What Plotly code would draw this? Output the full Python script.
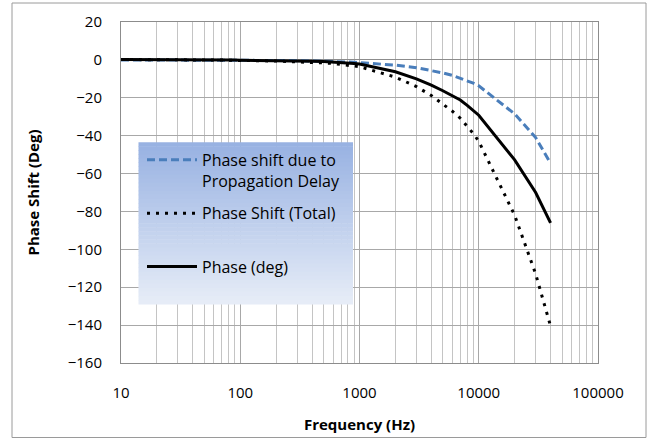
import plotly.graph_objects as go

# ---- data ----
freq_hz = [10, 20, 30, 40, 50, 60, 70, 80, 90, 100,
           200, 300, 400, 500, 600, 700, 800, 900, 1000,
           2000, 3000, 4000, 5000, 6000, 7000, 8000, 9000, 10000,
           20000, 30000, 40000]

delay_shift = [0.0, 0.0, 0.0, -0.1, -0.1, -0.1, -0.1, -0.1, -0.1, -0.1,
               -0.3, -0.4, -0.5, -0.7, -0.8, -1.0, -1.1, -1.2, -1.4,
               -2.8, -4.1, -5.5, -6.9, -8.2, -9.6, -11.0, -12.3, -13.7,
               -28.5, -41.0, -54.6]

total_shift = [0.2, 0.2, 0.2, 0.1, 0.0, 0.0, -0.1, -0.2, -0.2, -0.3,
               -0.6, -0.9, -1.2, -1.6, -1.9, -2.3, -2.7, -3.1, -3.6,
               -9.1, -14.1, -18.8, -23.2, -27.1, -30.8, -35.0, -38.9, -43.0,
               -82.0, -113.0, -140.5]

phase_deg = [0.2, 0.2, 0.2, 0.2, 0.1, 0.1, 0.0, -0.1, -0.1, -0.2,
             -0.3, -0.5, -0.7, -0.9, -1.1, -1.3, -1.6, -1.9, -2.2,
             -6.3, -10.0, -13.3, -16.3, -18.9, -21.2, -24.0, -26.6, -29.2,
             -52.8, -70.0, -86.0]

series_names = ["Phase shift due to<br>Propagation Delay", "Phase Shift (Total)", "Phase (deg)"]
x_tick_vals = [10, 100, 1000, 10000, 100000]
x_tick_text = ["10", "100", "1000", "10000", "100000"]
y_tick_vals = [20, 0, -20, -40, -60, -80, -100, -120, -140, -160]

FONT = "Open Sans"

fig = go.Figure()
fig.add_trace(go.Scatter(x=freq_hz, y=delay_shift, mode="lines", name=series_names[0],
                         line=dict(color="#4A7EBB", width=3, dash="8px,4px"), legend="legend"))
fig.add_trace(go.Scatter(x=freq_hz, y=total_shift, mode="lines", name=series_names[1],
                         line=dict(color="#000000", width=3, dash="3px,6px"), legend="legend2"))
fig.add_trace(go.Scatter(x=freq_hz, y=phase_deg, mode="lines", name=series_names[2],
                         line=dict(color="#000000", width=3), legend="legend3"))

# plot-area geometry (px) used for paper-coordinate styling
L, R, T, B = 121, 598, 22, 363
W, H = 650, 439
def px_x(px):
    return (px - L) / (R - L)
def px_y(py):
    return (B - py) / (B - T)

shapes = []
# gradient legend background
n = 40
top_c = (152, 178, 226)
bot_c = (230, 236, 247)
y_top, y_bot = 142.3, 304.0
for i in range(n):
    t = i / (n - 1)
    c = tuple(round(top_c[k] + (bot_c[k] - top_c[k]) * t) for k in range(3))
    ya = y_top + (y_bot - y_top) * i / n
    yb = y_top + (y_bot - y_top) * (i + 1) / n
    shapes.append(dict(type="rect", xref="paper", yref="paper",
                       x0=px_x(138.5), x1=px_x(353), y0=px_y(yb + 0.5), y1=px_y(ya),
                       fillcolor="rgb(%d,%d,%d)" % c, line=dict(width=0), layer="above"))
# outer chart border
shapes.append(dict(type="rect", xref="paper", yref="paper",
                   x0=px_x(12), x1=px_x(646), y0=px_y(437.5), y1=px_y(3),
                   line=dict(color="#9a9a9a", width=1), fillcolor="rgba(0,0,0,0)", layer="below"))

leg_common = dict(bgcolor="rgba(0,0,0,0)", borderwidth=0, xanchor="left", itemwidth=50,
                  font=dict(family=FONT, size=16, color="#000000"))
lx = px_x(142)

fig.update_layout(
    width=W, height=H,
    margin=dict(l=L, r=W - R, t=T, b=H - B, autoexpand=False),
    paper_bgcolor="white", plot_bgcolor="white",
    font=dict(family=FONT, size=15, color="#000000"),
    showlegend=True,
    legend=dict(x=lx, y=px_y(170.3), yanchor="middle", valign="top", **leg_common),
    legend2=dict(x=lx, y=px_y(213.3), yanchor="middle", **leg_common),
    legend3=dict(x=lx, y=px_y(266.7), yanchor="middle", **leg_common),
    shapes=shapes,
    xaxis=dict(type="log", range=[1, 5], tickvals=x_tick_vals, ticktext=x_tick_text,
               automargin=False,
               showgrid=True, gridcolor="#a8a8a8", gridwidth=1,
               minor=dict(dtick="D1", showgrid=True, gridcolor="#c4c4c4", gridwidth=1),
               showline=True, linecolor="#8c8c8c", linewidth=1, mirror=True,
               ticks="", ticklabelstandoff=16, zeroline=False,
               tickfont=dict(family=FONT, size=15, color="#000000"),
               title=dict(text="<b>Frequency (Hz)</b>", standoff=18,
                          font=dict(family=FONT, size=15, color="#000000"))),
    yaxis=dict(range=[-160, 20], tickvals=y_tick_vals, showgrid=True,
               automargin=False,
               gridcolor="#a8a8a8", gridwidth=1,
               showline=True, linecolor="#8c8c8c", linewidth=1, mirror=True,
               zeroline=True, zerolinecolor="#8c8c8c", zerolinewidth=1,
               ticks="", ticklabelstandoff=15,
               tickfont=dict(family=FONT, size=15, color="#000000"),
               title=dict(text="<b>Phase Shift (Deg)</b>", standoff=24,
                          font=dict(family=FONT, size=15, color="#000000"))),
)

# place the figure at the page origin (remove the browser's default body margin)
fig.write_html("out.html",
               config={"displayModeBar": False},
               post_script="document.body.style.margin='0px';document.body.style.overflow='hidden';")
